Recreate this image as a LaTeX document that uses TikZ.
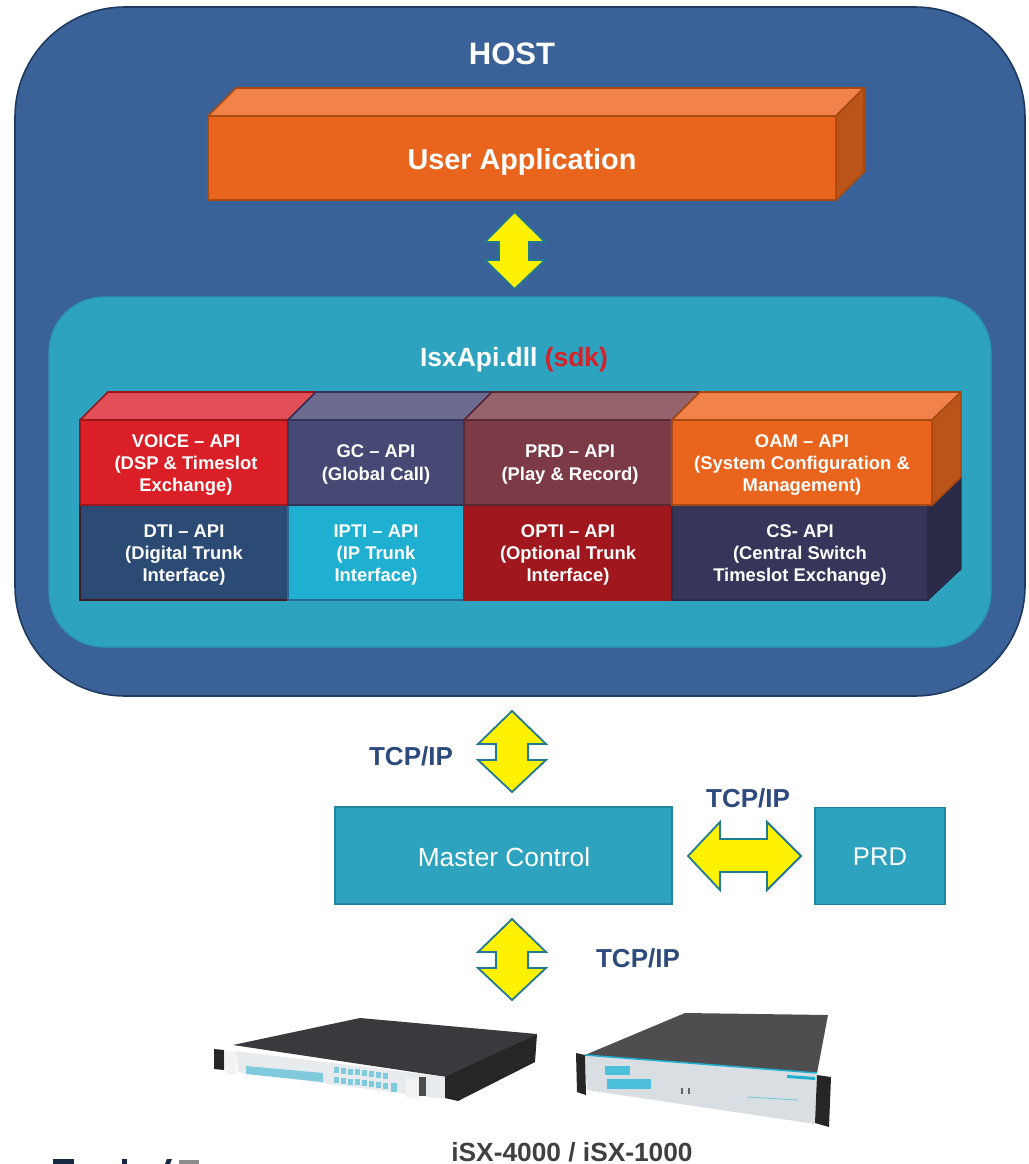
\documentclass[tikz,border=0pt]{standalone}
\usepackage{fontspec}
\setmainfont{Liberation Sans}
\definecolor{hostfill}{HTML}{3A6299}
\definecolor{hostline}{HTML}{1F3A5F}
\definecolor{teal}{HTML}{2DA3BF}
\definecolor{tealline}{HTML}{2896AF}
\definecolor{arrowline}{HTML}{1F7A94}
\definecolor{tcp}{HTML}{2C4A7C}
\definecolor{orangeF}{HTML}{E9641C}
\definecolor{orangeT}{HTML}{F0824A}
\definecolor{orangeS}{HTML}{BB5418}
\definecolor{orangeL}{HTML}{A84A12}
\definecolor{voiceF}{HTML}{DA1F26}
\definecolor{voiceT}{HTML}{E24F56}
\definecolor{voiceL}{HTML}{9B151B}
\definecolor{gcF}{HTML}{474975}
\definecolor{gcT}{HTML}{6B6C90}
\definecolor{gcL}{HTML}{33345A}
\definecolor{prdF}{HTML}{7C3A47}
\definecolor{prdT}{HTML}{94636C}
\definecolor{prdL}{HTML}{5A2933}
\definecolor{dtiF}{HTML}{2B4B75}
\definecolor{iptiF}{HTML}{1FAFD0}
\definecolor{optiF}{HTML}{A1171E}
\definecolor{csF}{HTML}{353659}
\definecolor{csS}{HTML}{2B2B47}
\definecolor{metal}{HTML}{3A3A3E}
\definecolor{panel}{HTML}{D9DEE2}
\definecolor{led}{HTML}{7FCBDD}
\tikzset{
  x=1pt,y=-1pt,
  blocktext/.style={text=white,font=\bfseries\fontsize{18.4}{22.4}\selectfont,align=center,inner sep=0,yshift=-2.5pt},
  bigarrow/.style={fill=yellow,draw=arrowline,line width=1.8pt,line join=miter},
  flatbox/.style={fill=teal,draw=arrowline!70!teal,line width=1.4pt,text=white,font=\fontsize{26}{30}\selectfont,inner sep=0,anchor=center},
  tcplabel/.style={text=tcp,font=\bfseries\fontsize{26}{30}\selectfont,inner sep=0},
}
\newcommand{\varrow}[3]{% cx, top, bottom
  \draw[bigarrow] (#1,#2) -- (#1+34,#2+33) -- (#1+16,#2+33) -- (#1+16,#2+49) -- (#1+34,#2+49) -- (#1,#3)
   -- (#1-34,#2+49) -- (#1-16,#2+49) -- (#1-16,#2+33) -- (#1-34,#2+33) -- cycle;}
\begin{document}
\begin{tikzpicture}
\useasboundingbox (0,0) rectangle (1028,1164);
\fill[white] (0,0) rectangle (1028,1164);
% host
\draw[fill=hostfill,draw=hostline,line width=1.6pt,rounded corners=110pt] (15,7) rectangle (1025,696);
\node[inner sep=0,text=white,font=\bfseries\fontsize{31}{34}\selectfont] (host) at (512,54) {HOST};
% user application
\draw[fill=orangeT,draw=orangeL,line width=1.6pt,line join=round] (208,116) -- (236,88) -- (864,88) -- (836,116) -- cycle;
\draw[fill=orangeS,draw=orangeL,line width=1.6pt,line join=round] (836,116) -- (864,88) -- (864,172) -- (836,200) -- cycle;
\draw[fill=orangeF,draw=orangeL,line width=1.6pt] (208,116) rectangle (836,200);
\node[inner sep=0,text=white,font=\bfseries\fontsize{28.8}{32}\selectfont] (app) at (522,162) {User Application};
% top arrow
\draw[bigarrow] (514.5,212) -- (545,242) -- (529,242) -- (529,260) -- (545,260) -- (514.5,289)
  -- (485,260) -- (499,260) -- (499,242) -- (485,242) -- cycle;
% sdk panel
\draw[fill=teal,draw=tealline,line width=1.2pt,rounded corners=55pt] (49,297) rectangle (991,647);
\node[inner sep=0,text=white,font=\bfseries\fontsize{26.4}{30}\selectfont] (sdk) at (514,360) {IsxApi.dll \textcolor{voiceF}{(sdk)}};
% lower row
\draw[fill=csS,draw=csS,line width=1.2pt,line join=round] (928,505) -- (961,477) -- (961,569) -- (928,600) -- cycle;
\draw[fill=dtiF,draw=prdL!70!black,line width=1.6pt] (80,505) rectangle (288,600) node[midway,blocktext] (dti) {DTI -- API\\(Digital Trunk\\Interface)};
\draw[fill=iptiF,draw=dtiF!70!iptiF,line width=1.6pt] (288,505) rectangle (464,600) node[midway,blocktext] (ipti) {IPTI -- API\\(IP Trunk\\Interface)};
\draw[fill=optiF,draw=optiF,line width=1.2pt] (464,505) rectangle (672,600) node[midway,blocktext] (opti) {OPTI -- API\\(Optional Trunk\\Interface)};
\draw[fill=csF,draw=csS,line width=1.6pt] (672,505) rectangle (928,600) node[midway,blocktext] (cs) {CS- API\\(Central Switch\\Timeslot Exchange)};
% upper row tops
\draw[fill=voiceT,draw=voiceL,line width=1.6pt,line join=round] (80,420) -- (108,392) -- (316,392) -- (288,420) -- cycle;
\draw[fill=gcT,draw=gcL,line width=1.6pt,line join=round] (288,420) -- (316,392) -- (492,392) -- (464,420) -- cycle;
\draw[fill=prdT,draw=prdL,line width=1.6pt,line join=round] (464,420) -- (492,392) -- (700,392) -- (672,420) -- cycle;
\draw[fill=orangeT,draw=orangeL,line width=1.6pt,line join=round] (672,420) -- (700,392) -- (961,392) -- (932,420) -- cycle;
\draw[fill=orangeS,draw=orangeL,line width=1.6pt,line join=round] (932,420) -- (961,392) -- (961,477) -- (932,505) -- cycle;
% upper row faces
\draw[fill=voiceF,draw=voiceL,line width=1.6pt] (80,420) rectangle (288,505) node[midway,blocktext,xshift=2pt] (voice) {VOICE -- API\\(DSP \& Timeslot\\Exchange)};
\draw[fill=gcF,draw=gcL,line width=1.6pt] (288,420) rectangle (464,505) node[midway,blocktext,yshift=.5pt] (gc) {GC -- API\\(Global Call)};
\draw[fill=prdF,draw=prdL,line width=1.6pt] (464,420) rectangle (672,505) node[midway,blocktext,yshift=.5pt,xshift=2pt] (prdapi) {PRD -- API\\(Play \& Record)};
\draw[fill=orangeF,draw=orangeL,line width=1.6pt] (672,420) rectangle (932,505) node[midway,blocktext] (oam) {OAM -- API\\(System Configuration \&\\Management)};
% lower boxes
\node[flatbox,minimum width=337pt,minimum height=97pt] (master) at (503.5,855.5) {};
\node[inner sep=0,text=white,font=\fontsize{26.3}{30}\selectfont] (mastertxt) at (504,857) {Master Control};
\node[flatbox,minimum width=130pt,minimum height=97pt] (prd) at (880,856) {};
\node[inner sep=0,text=white,font=\fontsize{25.6}{30}\selectfont] (prdtxt) at (880,857) {PRD};
% arrows
\varrow{512}{711}{792}
\varrow{512}{919}{1000}
\draw[bigarrow] (688,856) -- (720,822) -- (720,839) -- (767,839) -- (767,822) -- (801,856)
  -- (767,890) -- (767,872) -- (720,872) -- (720,890) -- cycle;
\node[tcplabel] (t1) at (411,756) {TCP/IP};
\node[tcplabel] (t2) at (748,798) {TCP/IP};
\node[tcplabel] (t3) at (638,958) {TCP/IP};
% device 1 (iSX-4000)
\fill[metal] (233,1045) -- (360,1018) -- (537,1034) -- (447,1077) -- cycle;
\fill[panel!60!white] (236,1051) -- (446,1077) -- (446,1099) -- (238,1072) -- cycle;
\fill[black!85] (445,1077) -- (537,1034) -- (535,1062) -- (458,1101) -- (445,1098) -- cycle;
\fill[black!85] (214,1049) -- (224,1050) -- (224,1070) -- (214,1069) -- cycle;
\fill[panel!40!white] (224,1051) -- (236,1052) -- (236,1074) -- (226,1074) -- cycle;
\fill[led] (246,1066) -- (323,1073) -- (323,1082) -- (246,1074) -- cycle;
\foreach \i in {0,...,7}{
  \fill[led] ({334+\i*7},{1067+\i*.8}) rectangle ++(5,6);
  \fill[led] ({334+\i*7},{1077+\i*.8}) rectangle ++(5,6);
}
\fill[led] (391,1083) rectangle (397,1092);
\fill[panel!40!white] (406,1078) -- (419,1079) -- (419,1099) -- (406,1097) -- cycle;
\fill[black!70] (419,1077) rectangle (426,1096);
\fill[panel!60!white] (428,1080) -- (444,1082) -- (444,1098) -- (428,1097) -- cycle;
% device 2 (iSX-1000)
\fill[metal!90!white] (585,1055) -- (685,1013) -- (828,1015) -- (817,1073) -- cycle;
\fill[panel] (585,1055) -- (817,1073) -- (815,1124) -- (587,1090) -- cycle;
\draw[line width=1.5pt,color=iptiF] (585,1055) -- (817,1073);
\fill[black!85] (576,1053) -- (585,1055) -- (586,1095) -- (577,1092) -- cycle;
\fill[black!85] (817,1075) -- (831,1077) -- (829,1127) -- (815,1123) -- cycle;
\fill[iptiF!80!white] (605,1066) rectangle (630,1075);
\fill[iptiF!80!white] (607,1079) rectangle (651,1089);
\fill[iptiF] (787,1075) -- (815,1077) -- (815,1080) -- (787,1078) -- cycle;
\fill[black!60] (681,1088) rectangle (683,1094);
\fill[black!60] (688,1088) rectangle (690,1094);
\draw[color=led,line width=1pt] (747,1097) -- (798,1100);
% caption
\node[inner sep=0,text=black!75,font=\bfseries\fontsize{26.3}{30}\selectfont] (cap) at (572,1152.5) {iSX-4000 / iSX-1000};
% cropped logo
\fill[hostline!70!black] (53,1159) rectangle (74,1164);
\fill[hostline!70!black] (122,1159) rectangle (127,1164);
\fill[hostline!70!black] (167,1159) -- (172,1159) -- (170,1164) -- (165,1164) -- cycle;
\fill[black!45] (179,1160) rectangle (199,1164);
\end{tikzpicture}
\end{document}
